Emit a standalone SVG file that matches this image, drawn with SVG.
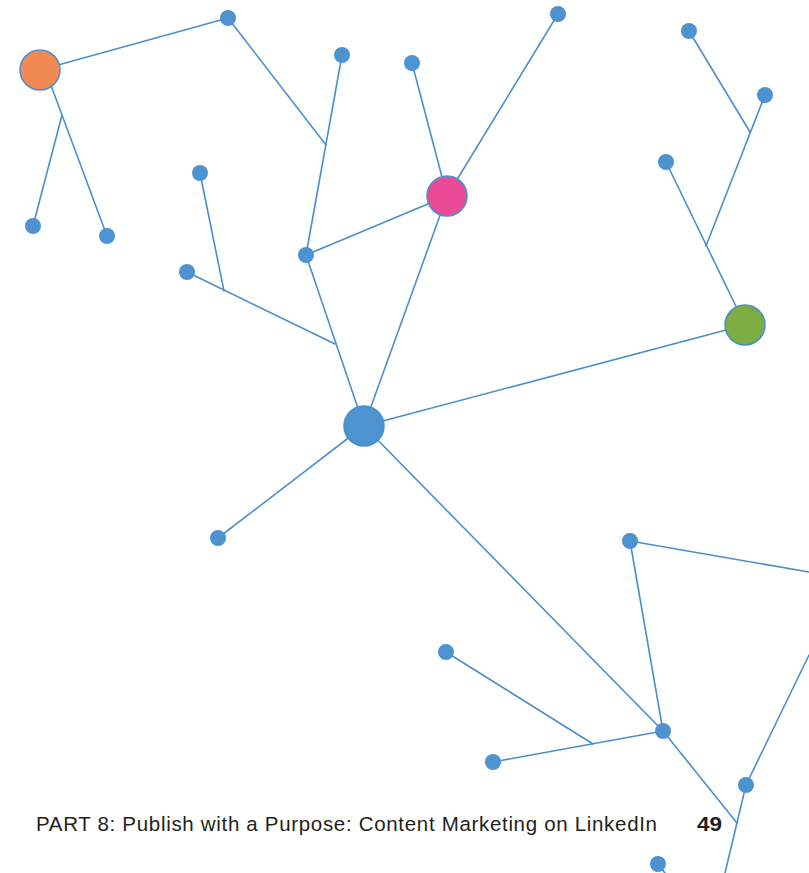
<svg xmlns="http://www.w3.org/2000/svg" width="809" height="873" viewBox="0 0 809 873">
<style>
.e{stroke:#4a8fcc;stroke-width:1.6;fill:none;stroke-linecap:round}
.n{fill:#4d93cf}
.b{stroke:#4a8fcc;stroke-width:1.5}
.t{font-family:"Liberation Sans","Open Sans",sans-serif;font-size:20.5px;fill:#231f20}
</style>
<rect width="809" height="873" fill="#fff"/>
<g id="connectors">
<path class="e" d="M40,70 L228,18"/>
<path class="e" d="M46,72 L107,236"/>
<path class="e" d="M62,115 L33,226"/>
<path class="e" d="M228,18 L326,145"/>
<path class="e" d="M342,55 L306,255"/>
<path class="e" d="M306,255 L447,196"/>
<path class="e" d="M306,255 L364,426"/>
<path class="e" d="M200,173 L224,291"/>
<path class="e" d="M187,272 L335,344"/>
<path class="e" d="M412,63 L447,196"/>
<path class="e" d="M558,14 L447,196"/>
<path class="e" d="M447,196 L364,426"/>
<path class="e" d="M689,31 L750,132"/>
<path class="e" d="M765,95 L706,246"/>
<path class="e" d="M666,162 L745,325"/>
<path class="e" d="M745,325 L364,426"/>
<path class="e" d="M364,426 L218,538"/>
<path class="e" d="M364,426 L663,731"/>
<path class="e" d="M630,541 L809,572"/>
<path class="e" d="M630,541 L663,731"/>
<path class="e" d="M446,652 L593,744"/>
<path class="e" d="M493,762 L663,731"/>
<path class="e" d="M663,731 L737,823"/>
<path class="e" d="M809,655 L746,785"/>
<path class="e" d="M746,785 L725,873"/>
<path class="e" d="M658,864 L665,873"/>
</g>
<g id="orange"><circle cx="40" cy="70" r="20" fill="#f28a53" class="b"/></g>
<g id="pink"><circle cx="447" cy="196" r="20" fill="#e94b97" class="b"/></g>
<g id="green"><circle cx="745" cy="325" r="20" fill="#7cad43" class="b"/></g>
<g id="hub"><circle cx="364" cy="426" r="20" fill="#4d93cf" class="b"/></g>
<g id="n1"><circle class="n" cx="228" cy="18" r="8"/></g>
<g id="n2"><circle class="n" cx="342" cy="55" r="8"/></g>
<g id="n3"><circle class="n" cx="412" cy="63" r="8"/></g>
<g id="n4"><circle class="n" cx="558" cy="14" r="8"/></g>
<g id="n5"><circle class="n" cx="689" cy="31" r="8"/></g>
<g id="n6"><circle class="n" cx="765" cy="95" r="8"/></g>
<g id="n7"><circle class="n" cx="666" cy="162" r="8"/></g>
<g id="n8"><circle class="n" cx="200" cy="173" r="8"/></g>
<g id="n9"><circle class="n" cx="33" cy="226" r="8"/></g>
<g id="n10"><circle class="n" cx="107" cy="236" r="8"/></g>
<g id="n11"><circle class="n" cx="187" cy="272" r="8"/></g>
<g id="n12"><circle class="n" cx="306" cy="255" r="8"/></g>
<g id="n13"><circle class="n" cx="218" cy="538" r="8"/></g>
<g id="n14"><circle class="n" cx="630" cy="541" r="8"/></g>
<g id="n15"><circle class="n" cx="446" cy="652" r="8"/></g>
<g id="n16"><circle class="n" cx="493" cy="762" r="8"/></g>
<g id="n17"><circle class="n" cx="663" cy="731" r="8"/></g>
<g id="n18"><circle class="n" cx="746" cy="785" r="8"/></g>
<g id="n19"><circle class="n" cx="658" cy="864" r="8"/></g>
<g id="footer">
<text class="t" x="36" y="831" textLength="621" lengthAdjust="spacing">PART 8: Publish with a Purpose: Content Marketing on LinkedIn</text>
<text class="t" x="697" y="831" font-weight="bold" textLength="25" lengthAdjust="spacingAndGlyphs">49</text>
</g>
</svg>
